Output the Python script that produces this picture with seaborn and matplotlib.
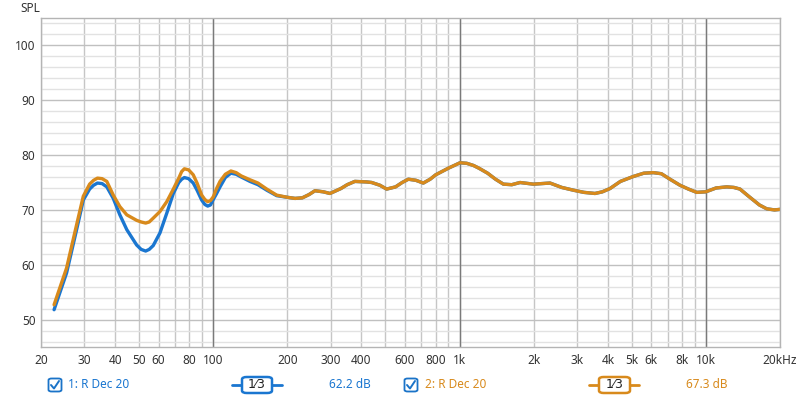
import numpy as np
import pandas as pd
import matplotlib.pyplot as plt
import seaborn as sns
from matplotlib.patches import FancyBboxPatch
from matplotlib.lines import Line2D

# values (Hz, dB SPL)
freq_low = [22.6, 25.4, 27.9, 29.7, 31.5, 32.7, 33.9, 35.4, 37.0, 39.3, 41.8, 44.6, 48.9,
            51.0, 53.2, 55.0, 57.1, 60.8, 64.8, 68.9, 72.5, 74.5, 76.4, 79.5, 83.0, 86.0,
            89.8, 92.5, 95.0, 97.5, 100.1, 103, 106.6, 112, 118, 124, 130, 141, 152, 165, 181]
spl_blue_low = [51.8, 58.5, 66.4, 71.8, 73.8, 74.5, 74.9, 74.8, 74.2, 72.1, 69.1, 66.4, 63.6,
                62.8, 62.5, 62.8, 63.5, 65.8, 69.4, 73.0, 75.0, 75.6, 75.9, 75.7, 74.9, 73.6,
                71.8, 71.0, 70.7, 70.9, 71.9, 72.9, 74.2, 75.9, 76.7, 76.5, 76.0, 75.2, 74.6,
                73.6, 72.6]
spl_orange_low = [52.7, 59.4, 67.3, 72.5, 74.7, 75.4, 75.8, 75.7, 75.2, 72.7, 70.6, 69.1, 68.1,
                  67.8, 67.6, 67.8, 68.5, 69.7, 71.5, 73.8, 75.8, 77.0, 77.5, 77.3, 76.4, 74.9,
                  72.7, 71.9, 71.5, 71.7, 72.4, 73.8, 75.2, 76.5, 77.1, 76.8, 76.2, 75.5, 74.9,
                  73.8, 72.7]

# above ~200 Hz both measurements coincide
freq_high = [200, 215, 230, 245, 259, 280, 298, 330, 350, 376, 420, 440, 475, 506, 550, 585,
             620, 665, 713, 760, 800, 900, 1005, 1070, 1140, 1200, 1300, 1400, 1507, 1630,
             1761, 1994, 2330, 2600, 2898, 3200, 3548, 3800, 4083, 4500, 5077, 5600, 6119,
             6600, 7152, 7853, 8500, 9180, 10000, 11000, 12150, 13000, 13760, 15000, 16500,
             17670, 19000, 20000]
spl_high = [72.3, 72.1, 72.2, 72.8, 73.5, 73.3, 73.0, 73.9, 74.6, 75.2, 75.1, 75.0, 74.5,
            73.8, 74.2, 75.0, 75.6, 75.4, 74.9, 75.6, 76.4, 77.6, 78.6, 78.5, 78.1, 77.6,
            76.7, 75.6, 74.7, 74.6, 75.0, 74.7, 74.9, 74.1, 73.6, 73.2, 73.0, 73.3, 73.9,
            75.2, 76.1, 76.7, 76.8, 76.6, 75.6, 74.5, 73.8, 73.2, 73.3, 74.0, 74.2, 74.1,
            73.8, 72.4, 70.9, 70.2, 70.0, 70.1]

x_ticks = [20, 30, 40, 50, 60, 80, 100, 200, 300, 400, 600, 800, 1000, 2000, 3000,
           4000, 5000, 6000, 8000, 10000, 20000]
x_labels = ['20', '30', '40', '50', '60', '80', '100', '200', '300', '400', '600', '800',
            '1k', '2k', '3k', '4k', '5k', '6k', '8k', '10k', '20kHz']
x_minor = [70, 90, 500, 700, 900, 7000, 9000]

blue = '#1a76d0'
orange = '#d88a1c'

df_blue = pd.DataFrame({'freq': freq_low + freq_high, 'spl': spl_blue_low + spl_high})
df_orange = pd.DataFrame({'freq': freq_low + freq_high, 'spl': spl_orange_low + spl_high})

sns.set_theme(style='white')
plt.rcParams['font.family'] = ['Noto Sans', 'DejaVu Sans']

fig = plt.figure(figsize=(8, 3.97), dpi=100)
ax = fig.add_axes([41 / 800, 1 - 347 / 397, 739 / 800, 329 / 397])

sns.lineplot(data=df_blue, x='freq', y='spl', color=blue, linewidth=2.4, ax=ax, sort=False)
sns.lineplot(data=df_orange, x='freq', y='spl', color=orange, linewidth=2.4, ax=ax, sort=False)
for l in ax.lines:
    l.set_solid_joinstyle('round')

ax.set_xscale('log')
ax.set_xlim(20, 20000)
ax.set_ylim(45, 105)
ax.set_xticks(x_ticks)
ax.set_xticklabels(x_labels)
ax.set_xticks(x_minor, minor=True)
ax.set_yticks([50, 60, 70, 80, 90, 100])
ax.set_yticks(np.arange(46, 105, 2), minor=True)
ax.set_xlabel('')
ax.set_ylabel('')
ax.tick_params(axis='both', which='both', length=0, labelsize=8.5, colors='#333333')
ax.tick_params(axis='x', pad=5)
ax.tick_params(axis='y', pad=4)

# grid
ax.grid(True, axis='x', which='both', color='#c6c6c6', linewidth=1)
ax.grid(True, axis='y', which='major', color='#c0c0c0', linewidth=1)
ax.grid(True, axis='y', which='minor', color='#e2e2e2', linewidth=1)
for f in [100, 1000, 10000]:
    ax.axvline(f, color='#7a7a7a', linewidth=1, zorder=1.5)
ax.set_axisbelow(True)
for s in ax.spines.values():
    s.set_color('#b4b4b4')
    s.set_linewidth(1)

fig.text(20 / 800, 1 - 8 / 397, 'SPL', fontsize=8.5, color='#333333', va='center')

# legend strip at the bottom
def checkbox(xc, yc, col):
    w = 13 / 800
    h = 13 / 397
    fig.patches.append(FancyBboxPatch((xc - w / 2, yc - h / 2), w, h,
                                      boxstyle='round,pad=0,rounding_size=0.004',
                                      transform=fig.transFigure, facecolor='white',
                                      edgecolor=col, linewidth=1.3))
    fig.lines.append(Line2D([xc - 4 / 800, xc - 1 / 800, xc + 4 / 800],
                            [yc, yc - 3.5 / 397, yc + 4 / 397],
                            transform=fig.transFigure, color=col, linewidth=1.4))

def smooth_box(x0, x1, bx0, bx1, yc, col):
    fig.lines.append(Line2D([x0 / 800, x1 / 800], [yc, yc], transform=fig.transFigure,
                            color=col, linewidth=2))
    h = 16 / 397
    fig.patches.append(FancyBboxPatch((bx0 / 800, yc - h / 2), (bx1 - bx0) / 800, h,
                                      boxstyle='round,pad=0,rounding_size=0.006',
                                      transform=fig.transFigure, facecolor='white',
                                      edgecolor=col, linewidth=1.8, zorder=3))
    fig.text((bx0 + bx1) / 2 / 800, yc, '1⁄3', fontsize=9, color='#222222',
             ha='center', va='center', zorder=4, family=['DejaVu Sans'])

yl = 1 - 385 / 397
checkbox(55 / 800, yl, '#1a73c8')
fig.text(68 / 800, yl, '1: R Dec 20', fontsize=8.5, color=blue, va='center')
smooth_box(232, 282, 242, 272, yl, blue)
fig.text(329 / 800, yl, '62.2 dB', fontsize=8.5, color=blue, va='center')

checkbox(411 / 800, yl, '#1a73c8')
fig.text(425 / 800, yl, '2: R Dec 20', fontsize=8.5, color=orange, va='center')
smooth_box(589, 639, 599, 630, yl, orange)
fig.text(686 / 800, yl, '67.3 dB', fontsize=8.5, color=orange, va='center')

fig.savefig('out.png', dpi=100, facecolor='white')
